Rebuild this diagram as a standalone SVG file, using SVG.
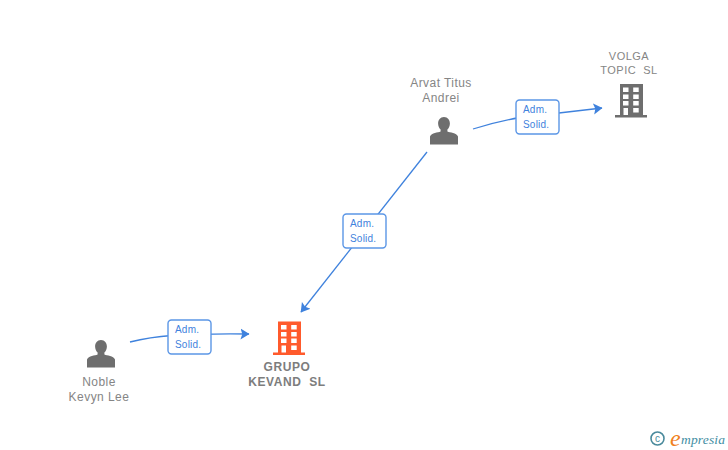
<svg xmlns="http://www.w3.org/2000/svg" width="728" height="450" viewBox="0 0 728 450">
<style>
.n{font-family:"Liberation Sans",Arial,sans-serif;font-size:12px;fill:#858585;text-anchor:middle;letter-spacing:.45px}
.s{font-size:11px;letter-spacing:.5px}
.b{font-weight:bold;fill:#7d7d7d;letter-spacing:.55px}
.l{font-family:"Liberation Sans",Arial,sans-serif;font-size:10px;fill:#3f82dd;letter-spacing:.2px}
.c{fill:none;stroke:#3f82dd;stroke-width:1.3}
.box{fill:#fff;stroke:#5b96e6;stroke-width:1.4}
.p{fill:#6e6e6e}
.w{fill:#fff}
</style>
<defs>
<marker id="arr" markerUnits="userSpaceOnUse" markerWidth="10" markerHeight="12" refX="8.5" refY="6" orient="auto"><path d="M0 .5L9 6L0 11.5L1.8 6Z" fill="#3f82dd"/></marker>
<path id="person" d="M0-16C3.800-16 5.900-13 5.900-9.500C5.900-7 4.800-4.800 3.400-3.400V-1.600C6-.3 12.500-.6 14 3.500V11.500H-14V3.500C-12.500-.6-6-.3-3.400-1.600V-3.400C-4.800-4.800-5.900-7-5.900-9.500C-5.900-13-3.800-16 0-16Z"/>
<g id="bldg"><path d="M-11-17H12V14H16V16.500H-16V14H-11Z"/>
<g class="w"><rect x="-8" y="-13.500" width="5.500" height="4.500"/><rect x="2.200" y="-13.500" width="5.500" height="4.500"/><rect x="-8" y="-6.500" width="5.500" height="4.500"/><rect x="2.200" y="-6.500" width="5.500" height="4.500"/><rect x="-8" y="0" width="5.500" height="4.500"/><rect x="2.200" y="0" width="5.500" height="4.500"/><rect x="-7.500" y="7" width="4.500" height="7"/><rect x="2.200" y="7" width="5.500" height="4.500"/></g></g>
</defs>
<g id="connectors">
<path class="c" marker-end="url(#arr)" d="M473 129Q495 122 520 117.500L602 108"/>
<path class="c" marker-end="url(#arr)" d="M427 152L301 312"/>
<path class="c" marker-end="url(#arr)" d="M130 342Q150 337 172 335.500Q200 333.500 249 334"/>
</g>
<g id="label-1"><rect class="box" x="516" y="100" width="43" height="34" rx="3.500"/><text class="l" x="523" y="113">Adm.</text><text class="l" x="523" y="128">Solid.</text></g>
<g id="label-2"><rect class="box" x="343" y="214" width="43" height="34" rx="3.500"/><text class="l" x="350" y="227">Adm.</text><text class="l" x="350" y="242">Solid.</text></g>
<g id="label-3"><rect class="box" x="168" y="320" width="43" height="34" rx="3.500"/><text class="l" x="175" y="333">Adm.</text><text class="l" x="175" y="348">Solid.</text></g>
<g id="arvat"><text class="n" x="441" y="87">Arvat Titus</text><text class="n" x="441" y="102">Andrei</text><use href="#person" class="p" x="444" y="133"/></g>
<g id="volga"><text class="n s" x="629" y="59.500">VOLGA</text><text class="n s" x="629" y="74" xml:space="preserve">TOPIC  SL</text><use href="#bldg" class="p" x="631" y="101"/></g>
<g id="noble"><text class="n" x="99" y="386">Noble</text><text class="n" x="99" y="401">Kevyn Lee</text><use href="#person" class="p" x="101" y="356"/></g>
<g id="grupo"><text class="n b" x="287" y="371">GRUPO</text><text class="n b" x="287" y="386" xml:space="preserve">KEVAND  SL</text><use href="#bldg" fill="#ff5a2c" x="289" y="338.500"/></g>
<g id="logo"><circle cx="657.500" cy="438.500" r="6.500" fill="none" stroke="#4a8a9c" stroke-width="1.600"/><text x="657.500" y="442" font-family="Liberation Sans,sans-serif" font-size="10" fill="#4a8a9c" text-anchor="middle">c</text>
<text x="670" y="446" font-family="Liberation Serif,serif" font-style="italic" font-size="24" fill="#f08020">e</text>
<text x="681" y="444" font-family="Liberation Serif,serif" font-style="italic" font-size="13.500" fill="#3f8ea3" textLength="44" lengthAdjust="spacing">mpresia</text></g>
</svg>
